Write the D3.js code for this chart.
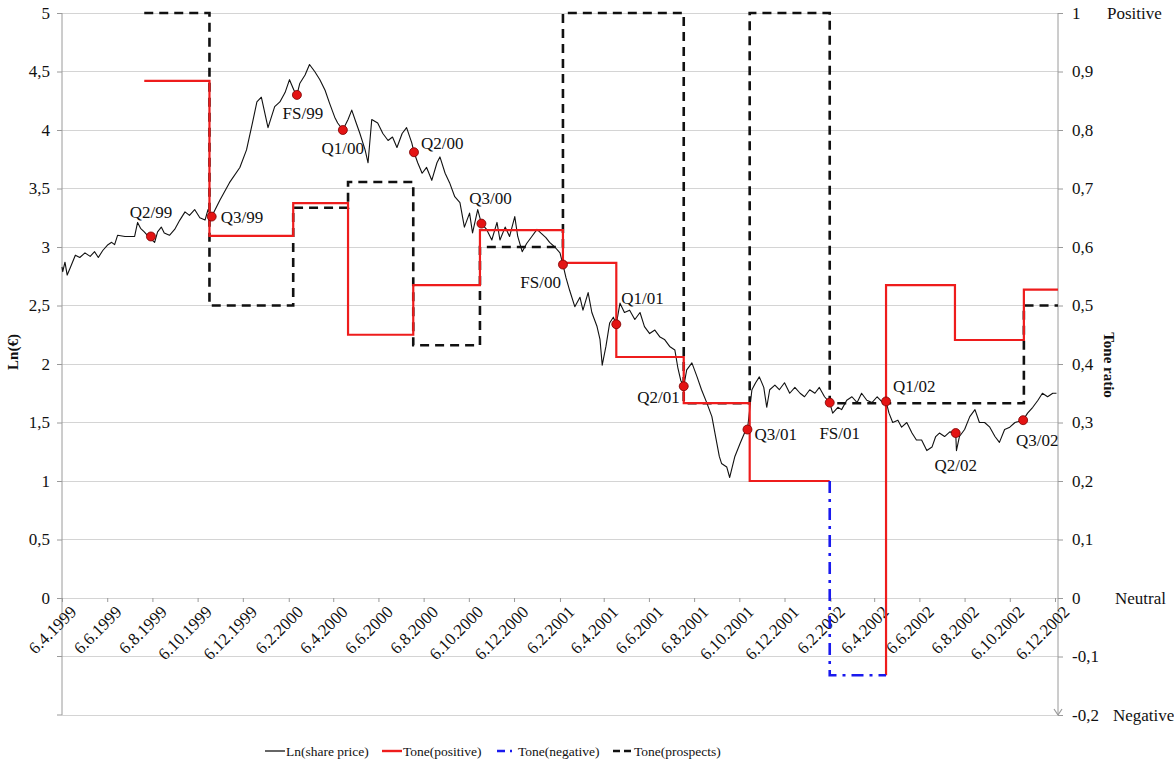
<!DOCTYPE html>
<html><head><meta charset="utf-8">
<script src="https://cdn.jsdelivr.net/npm/d3@7"></script>
<style>body{margin:0;background:#fff}svg{display:block}svg text{font-family:"Liberation Serif","DejaVu Serif",serif !important}</style>
</head><body><svg id="c" width="1174" height="767"></svg>
<script>
// ---------- DATA ----------
const xTickLabels = ["6.4.1999","6.6.1999","6.8.1999","6.10.1999","6.12.1999","6.2.2000","6.4.2000","6.6.2000","6.8.2000","6.10.2000","6.12.2000","6.2.2001","6.4.2001","6.6.2001","6.8.2001","6.10.2001","6.12.2001","6.2.2002","6.4.2002","6.6.2002","6.8.2002","6.10.2002","6.12.2002"];
const leftTicks = [0,0.5,1,1.5,2,2.5,3,3.5,4,4.5,5];
const rightTicks = [-0.2,-0.1,0,0.1,0.2,0.3,0.4,0.5,0.6,0.7,0.8,0.9,1];
const rightTickNames = {"1":"Positive","0":"Neutral","-0.2":"Negative"};

const priceDates = ["1999-04-06","1999-04-07","1999-04-10","1999-04-13","1999-04-17","1999-04-24","1999-04-30","1999-05-07","1999-05-14","1999-05-20","1999-05-25","1999-05-31","1999-06-07","1999-06-12","1999-06-16","1999-06-20","1999-06-30","1999-07-06","1999-07-13","1999-07-17","1999-07-21","1999-07-26","1999-08-02","1999-08-09","1999-08-13","1999-08-18","1999-08-22","1999-08-29","1999-09-05","1999-09-12","1999-09-19","1999-09-25","1999-10-02","1999-10-09","1999-10-16","1999-10-20","1999-10-25","1999-11-05","1999-11-18","1999-12-02","1999-12-11","1999-12-19","1999-12-25","1999-12-31","2000-01-09","2000-01-18","2000-01-25","2000-02-01","2000-02-07","2000-02-13","2000-02-17","2000-02-21","2000-02-28","2000-03-05","2000-03-12","2000-03-19","2000-03-26","2000-04-01","2000-04-08","2000-04-12","2000-04-19","2000-04-26","2000-05-01","2000-05-07","2000-05-12","2000-05-19","2000-05-23","2000-05-28","2000-06-05","2000-06-12","2000-06-19","2000-06-25","2000-07-01","2000-07-08","2000-07-14","2000-07-21","2000-07-24","2000-07-29","2000-08-04","2000-08-10","2000-08-17","2000-08-24","2000-08-28","2000-09-04","2000-09-10","2000-09-17","2000-09-24","2000-09-30","2000-10-07","2000-10-11","2000-10-18","2000-10-23","2000-10-30","2000-11-06","2000-11-13","2000-11-17","2000-11-24","2000-11-30","2000-12-07","2000-12-11","2000-12-17","2000-12-23","2000-12-30","2001-01-06","2001-01-11","2001-01-18","2001-01-23","2001-01-30","2001-02-06","2001-02-10","2001-02-14","2001-02-19","2001-02-26","2001-03-05","2001-03-09","2001-03-16","2001-03-21","2001-03-28","2001-04-01","2001-04-04","2001-04-09","2001-04-14","2001-04-19","2001-04-23","2001-04-28","2001-05-04","2001-05-11","2001-05-18","2001-05-25","2001-05-31","2001-06-07","2001-06-14","2001-06-21","2001-06-27","2001-07-04","2001-07-11","2001-07-15","2001-07-19","2001-07-23","2001-07-27","2001-08-03","2001-08-10","2001-08-16","2001-08-23","2001-08-30","2001-09-04","2001-09-09","2001-09-12","2001-09-19","2001-09-23","2001-09-30","2001-10-07","2001-10-13","2001-10-17","2001-10-23","2001-10-28","2001-11-02","2001-11-08","2001-11-12","2001-11-16","2001-11-23","2001-11-29","2001-12-06","2001-12-13","2001-12-20","2001-12-27","2002-01-02","2002-01-09","2002-01-16","2002-01-22","2002-01-29","2002-02-05","2002-02-09","2002-02-16","2002-02-21","2002-02-28","2002-03-07","2002-03-14","2002-03-20","2002-03-27","2002-04-03","2002-04-10","2002-04-16","2002-04-22","2002-04-26","2002-05-01","2002-05-08","2002-05-13","2002-05-20","2002-05-27","2002-06-02","2002-06-09","2002-06-16","2002-06-23","2002-06-28","2002-07-03","2002-07-10","2002-07-17","2002-07-25","2002-07-26","2002-07-30","2002-08-06","2002-08-13","2002-08-20","2002-08-26","2002-09-02","2002-09-09","2002-09-16","2002-09-22","2002-09-29","2002-10-06","2002-10-13","2002-10-24","2002-10-30","2002-11-06","2002-11-13","2002-11-19","2002-11-26","2002-12-03","2002-12-08"];
const priceValues = [2.83,2.79,2.87,2.76,2.82,2.93,2.91,2.95,2.92,2.96,2.91,2.97,3.02,3.04,3.02,3.10,3.09,3.09,3.09,3.21,3.16,3.13,3.08,3.04,3.13,3.17,3.12,3.10,3.15,3.23,3.30,3.27,3.32,3.25,3.23,3.32,3.26,3.40,3.55,3.68,3.83,4.06,4.24,4.28,4.02,4.20,4.24,4.32,4.43,4.34,4.30,4.40,4.47,4.56,4.50,4.43,4.34,4.23,4.11,4.06,4.00,4.09,4.17,4.06,3.97,3.83,3.72,4.09,4.06,3.97,3.91,3.94,3.85,3.97,4.02,3.89,3.81,3.72,3.63,3.68,3.57,3.72,3.77,3.63,3.55,3.43,3.38,3.17,3.29,3.12,3.32,3.20,3.15,3.06,3.21,3.06,3.17,3.09,3.26,3.09,2.96,3.03,3.09,3.15,3.12,3.08,3.04,3.00,2.95,2.85,2.74,2.63,2.49,2.57,2.46,2.61,2.44,2.32,2.21,1.99,2.15,2.35,2.40,2.34,2.52,2.44,2.46,2.38,2.44,2.32,2.26,2.29,2.23,2.21,2.15,2.12,1.97,1.86,1.81,1.95,2.01,1.89,1.78,1.67,1.55,1.38,1.21,1.15,1.12,1.03,1.21,1.32,1.41,1.44,1.78,1.84,1.89,1.80,1.63,1.78,1.82,1.78,1.84,1.75,1.80,1.75,1.72,1.78,1.75,1.80,1.72,1.67,1.58,1.63,1.61,1.69,1.72,1.67,1.75,1.69,1.67,1.72,1.68,1.68,1.58,1.50,1.52,1.46,1.50,1.41,1.35,1.35,1.26,1.29,1.38,1.41,1.38,1.42,1.41,1.26,1.38,1.44,1.55,1.61,1.50,1.50,1.46,1.38,1.33,1.44,1.46,1.50,1.52,1.58,1.63,1.69,1.75,1.72,1.75,1.75];

const eventLabels = ["Q2/99","Q3/99","FS/99","Q1/00","Q2/00","Q3/00","FS/00","Q1/01","Q2/01","Q3/01","FS/01","Q1/02","Q2/02","Q3/02"];
const eventDates = ["1999-08-04","1999-10-25","2000-02-17","2000-04-19","2000-07-24","2000-10-23","2001-02-10","2001-04-23","2001-07-23","2001-10-17","2002-02-05","2002-04-22","2002-07-25","2002-10-24"];
const eventValues = [3.09,3.26,4.30,4.00,3.81,3.20,2.85,2.34,1.81,1.44,1.67,1.68,1.41,1.52];

const toneDates = ["1999-07-26","1999-10-22","2000-02-12","2000-04-26","2000-07-23","2000-10-21","2001-02-10","2001-04-23","2001-07-23","2001-10-20","2002-02-05","2002-04-22","2002-07-24","2002-10-25"];
const toneEnd = "2002-12-10";
const tonePositive  = [0.884,0.619,0.675,0.45,0.535,0.629,0.573,0.412,0.333,0.2,null,0.535,0.441,0.527];
const toneNegative  = [null,null,null,null,null,null,null,null,null,null,-0.132,null,null,null];
const toneProspects = [1.0,0.5,0.667,0.711,0.432,0.6,1.0,1.0,0.333,1.0,0.333,0.333,0.333,0.5];

const legendNames = ["Ln(share price)","Tone(positive)","Tone(negative)","Tone(prospects)"];

// ---------- LAYOUT / STYLE ----------
const labelPlacement = [[0,-24,"middle"],[9,0,"start"],[6,18,"middle"],[0,18,"middle"],[7,-9,"start"],[9,-26,"middle"],[-2,17,"end"],[5,-26,"start"],[-4,11,"end"],[7,5,"start"],[10,30,"middle"],[7,-15,"start"],[0,32,"middle"],[14,20,"middle"]];
const L = 62, R = 1058, T = 13, B = 715;

const svg = d3.select("#c");
const parse = d3.timeParse("%Y-%m-%d");
const parseTick = d3.timeParse("%d.%m.%Y");
const loc = d3.formatLocale({decimal:",",thousands:".",grouping:[3],currency:["","€"],minus:"-"});
const fmt = loc.format(".1~f");

const x = d3.scaleTime().domain([parseTick("6.4.1999"), parseTick("6.12.2002")]).range([L, 1055]);
const yL = d3.scaleLinear().domain([-1,5]).range([B,T]);
const yR = d3.scaleLinear().domain([-0.2,1]).range([B,T]);

// gridlines
svg.append("g").selectAll("line").data(rightTicks).join("line")
  .attr("x1",L).attr("x2",R).attr("y1",d=>yR(d)).attr("y2",d=>yR(d))
  .attr("stroke","#d4d4d4").attr("stroke-width",1).attr("shape-rendering","crispEdges");

// left axis
const gL = svg.append("g").attr("transform",`translate(${L},0)`)
  .call(d3.axisLeft(yL).tickValues(leftTicks).tickFormat(fmt).tickSize(5).tickPadding(7));
gL.select(".domain").attr("d",`M0,${T}V${B}`).attr("stroke","#9a9a9a");
gL.selectAll(".tick line").attr("stroke","#9a9a9a");
gL.selectAll(".tick text").attr("font-size",17).attr("fill","#111");
svg.append("line").attr("x1",L-5).attr("x2",L).attr("y1",yL(-0.5)).attr("y2",yL(-0.5)).attr("stroke","#9a9a9a");
svg.append("line").attr("x1",L-5).attr("x2",L).attr("y1",yL(-1)).attr("y2",yL(-1)).attr("stroke","#9a9a9a");

// right axis
const gR = svg.append("g").attr("transform",`translate(${R},0)`)
  .call(d3.axisRight(yR).tickValues(rightTicks).tickFormat(fmt).tickSize(5).tickPadding(9));
gR.select(".domain").attr("d",`M0,${T}V${B}`).attr("stroke","#9a9a9a");
gR.selectAll(".tick line").attr("stroke","#9a9a9a");
gR.selectAll(".tick text").attr("font-size",17).attr("fill","#111");
svg.append("path").attr("d",`M${R-4},${B-6}L${R},${B}L${R+4},${B-6}`).attr("fill","none").attr("stroke","#9a9a9a").attr("stroke-width",1.2);
Object.entries(rightTickNames).forEach(([v,name])=>{
  svg.append("text").attr("x", name==="Positive"?1107:(name==="Neutral"?1115:1113)).attr("y",yR(+v)).attr("dy","0.35em")
    .attr("font-size",17).attr("fill","#111").text(name);
});

// x axis at y=0
const gX = svg.append("g").attr("transform",`translate(0,${yL(0)})`)
  .call(d3.axisBottom(x).tickValues(xTickLabels.map(parseTick)).tickFormat((d,i)=>xTickLabels[i]).tickSize(4));
gX.select(".domain").remove();
gX.selectAll(".tick line").attr("stroke","#9a9a9a");
gX.selectAll(".tick text").attr("font-size",17).attr("fill","#111")
  .attr("text-anchor","end").attr("transform","translate(6,6) rotate(-45)").attr("dy","0.75em").attr("y",0);

// axis titles
svg.append("text").attr("transform",`translate(18,352) rotate(-90)`).attr("text-anchor","middle")
  .attr("font-weight","bold").attr("font-size",15).attr("fill","#111").text("Ln(€)");
svg.append("text").attr("transform",`translate(1104,365) rotate(90)`).attr("text-anchor","middle")
  .attr("font-weight","bold").attr("font-size",15).attr("fill","#111").text("Tone ratio");

// price line
const priceData = priceDates.map((d,i)=>({d:parse(d), v:priceValues[i]}));
svg.append("path").datum(priceData)
  .attr("d", d3.line().x(p=>x(p.d)).y(p=>yL(p.v)))
  .attr("fill","none").attr("stroke","#111").attr("stroke-width",1.1).attr("stroke-linejoin","round");

// tone steps
const tDates = toneDates.map(parse).concat([parse(toneEnd)]);
const combined = tonePositive.map((v,i)=> v!=null ? v : toneNegative[i]);
const stepLine = d3.line().x(p=>x(p[0])).y(p=>yR(p[1])).curve(d3.curveStepAfter);
function runs(values){
  const out=[]; let cur=null;
  values.forEach((v,i)=>{
    if(v!=null){ if(!cur){cur=[]; if(i>0) cur.push([tDates[i], combined[i-1]]);} cur.push([tDates[i],v]); if(i===values.length-1||values[i+1]==null){cur.push([tDates[i+1],v]); out.push(cur); cur=null;} }
  });
  return out;
}
const prospectPts = toneProspects.map((v,i)=>[tDates[i],v]).concat([[tDates[tDates.length-1], toneProspects[toneProspects.length-1]]]);
svg.append("path").attr("d",stepLine(prospectPts)).attr("fill","none").attr("stroke","#111")
  .attr("stroke-width",2.6).attr("stroke-dasharray","9,6");
runs(tonePositive).forEach(r=>{
  svg.append("path").attr("d",stepLine(r)).attr("fill","none").attr("stroke","#ee1c1c").attr("stroke-width",2.2);
});
runs(toneNegative).forEach(r=>{
  svg.append("path").attr("d",stepLine(r)).attr("fill","none").attr("stroke","#1a1aee").attr("stroke-width",2.6).attr("stroke-dasharray","12,6,3,6");
});

// event markers + labels
eventLabels.forEach((lab,i)=>{
  const cx = x(parse(eventDates[i])), cy = yL(eventValues[i]);
  svg.append("circle").attr("cx",cx).attr("cy",cy).attr("r",4.5).attr("fill","#e41414").attr("stroke","#7a0000").attr("stroke-width",0.8);
  const [dx,dy,anc] = labelPlacement[i];
  svg.append("text").attr("x",cx+dx).attr("y",cy+dy).attr("dy","0.35em").attr("text-anchor",anc)
    .attr("font-size",17).attr("fill","#111").text(lab);
});

// legend
const legendX = [265,382,497,613];
const legendStyle = [
  {stroke:"#333",w:1.5,dash:null},
  {stroke:"#ee1c1c",w:2.4,dash:null},
  {stroke:"#1a1aee",w:2.6,dash:"8,5,2,5"},
  {stroke:"#111",w:2.6,dash:"7,4"}];
legendNames.forEach((n,i)=>{
  const s = legendStyle[i];
  svg.append("line").attr("x1",legendX[i]).attr("x2",legendX[i]+20).attr("y1",751).attr("y2",751)
    .attr("stroke",s.stroke).attr("stroke-width",s.w).attr("stroke-dasharray",s.dash);
  svg.append("text").attr("x",legendX[i]+21).attr("y",751).attr("dy","0.35em")
    .attr("font-size",13.5).attr("fill","#111").text(n);
});
</script></body></html>
